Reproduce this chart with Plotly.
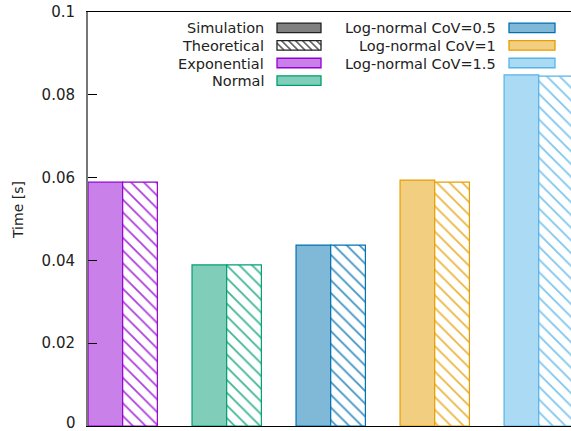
import plotly.graph_objects as go

# ---- data ----
categories = ["Exponential", "Normal", "Log-normal CoV=0.5", "Log-normal CoV=1", "Log-normal CoV=1.5"]
simulation = [0.0589, 0.0389, 0.0437, 0.0594, 0.0848]
theoretical = [0.0589, 0.0389, 0.0437, 0.0589, 0.0845]
y_ticks = [0.02, 0.04, 0.06, 0.08, 0.1]
y_tick_labels = ["0.02", "0.04", "0.06", "0.08", "0.1"]

# ---- styles ----
line_colors = ["#9400D3", "#009E73", "#0072B2", "#E69F00", "#56B4E9"]


def mix(c, f):
    r, g, b = int(c[1:3], 16), int(c[3:5], 16), int(c[5:7], 16)
    return "#%02X%02X%02X" % tuple(int(round(v + (255 - v) * f)) for v in (r, g, b))


fill_colors = [mix(c, 0.5) for c in line_colors]
hatch_colors = [mix(c, 0.25) for c in line_colors]
FONT = "DejaVu Sans"
W, H = 571, 431
L, R, T, B = 88, 571, 12, 426

x_pos = list(range(len(categories)))

fig = go.Figure()
fig.add_trace(go.Bar(
    x=x_pos, y=simulation, name="Simulation",
    marker=dict(color=fill_colors, line=dict(color=line_colors, width=1.2)),
    showlegend=False,
))
fig.add_trace(go.Bar(
    x=x_pos, y=theoretical, name="Theoretical",
    marker=dict(color="white", line=dict(color=line_colors, width=1.2),
                pattern=dict(shape="\\", fgcolor=hatch_colors, bgcolor="white",
                             size=9, solidity=0.2, fillmode="replace")),
    showlegend=False,
))

fig.update_layout(
    width=W, height=H,
    margin=dict(l=L, r=W - R, t=T, b=H - B, pad=0),
    plot_bgcolor="white", paper_bgcolor="white",
    barmode="group", bargap=1 / 3, bargroupgap=0,
    font=dict(family=FONT, size=14.5, color="#222"),
    xaxis=dict(range=[-1 / 3, 4.31], showticklabels=False, ticks="",
               showline=True, linecolor="black", linewidth=1, mirror=True,
               showgrid=False, zeroline=False),
    yaxis=dict(range=[0, 0.1], tickvals=y_ticks, ticktext=y_tick_labels,
               ticks="inside", ticklen=9, tickcolor="black", tickwidth=1,
               showline=True, linecolor="#777", linewidth=2, mirror=False,
               showgrid=False, zeroline=False, ticklabelstandoff=8,
               tickfont=dict(family=FONT, size=15, color="#222")),
)


def px(xp):
    return (xp - L) / (R - L)


def py(yp):
    return (B - yp) / (B - T)


# "0" tick label at the bottom edge
fig.add_annotation(text="0", xref="paper", yref="paper", x=px(78), y=py(423),
                   xanchor="right", yanchor="middle", showarrow=False,
                   font=dict(family=FONT, size=15, color="#222"))

# y-axis title
fig.add_annotation(text="Time [s]", textangle=-90, xref="paper", yref="paper",
                   x=px(18), y=py(210),
                   xanchor="center", yanchor="middle", showarrow=False,
                   font=dict(family=FONT, size=14, color="#222"))

# ---- manual gnuplot-style legend (text right, swatch right of text) ----
rows_y = [27.8, 45.4, 63.0, 80.6]
sw_h = 9.5
columns = [
    dict(text_right=266, sw_x0=277, sw_x1=321,
         items=[("Simulation", "#808080", "#222", False),
                ("Theoretical", "white", "#222", True),
                ("Exponential", fill_colors[0], line_colors[0], False),
                ("Normal", fill_colors[1], line_colors[1], False)]),
    dict(text_right=498, sw_x0=509, sw_x1=555,
         items=[("Log-normal CoV=0.5", fill_colors[2], line_colors[2], False),
                ("Log-normal CoV=1", fill_colors[3], line_colors[3], False),
                ("Log-normal CoV=1.5", fill_colors[4], line_colors[4], False)]),
]
for col in columns:
    for i, (label, fc, lc, hatched) in enumerate(col["items"]):
        yc = rows_y[i]
        fig.add_annotation(text=label, xref="paper", yref="paper",
                           x=px(col["text_right"]), y=py(yc + 0.5),
                           xanchor="right", yanchor="middle", showarrow=False,
                           font=dict(family=FONT, size=14.5, color="#222"))
        x0, x1 = col["sw_x0"], col["sw_x1"]
        y0, y1 = yc - sw_h / 2, yc + sw_h / 2
        if hatched:
            segs = []
            step = 7
            c = x0 - (y1 - y0)
            while c < x1:
                ya, yb = y0, y1
                xa, xb = c, c + (y1 - y0)
                if xa < x0:
                    ya = y0 + (x0 - xa); xa = x0
                if xb > x1:
                    yb = y1 - (xb - x1); xb = x1
                if xb > xa:
                    segs.append("M %f %f L %f %f" % (px(xa), py(ya), px(xb), py(yb)))
                c += step
            fig.add_shape(type="path", path=" ".join(segs), xref="paper", yref="paper",
                          line=dict(color="#666", width=1.5))
        fig.add_shape(type="rect", xref="paper", yref="paper",
                      x0=px(x0), x1=px(x1), y0=py(y1), y1=py(y0),
                      fillcolor=fc if not hatched else "rgba(0,0,0,0)",
                      line=dict(color=lc, width=1.3), layer="above")

fig.write_html("out.html")
